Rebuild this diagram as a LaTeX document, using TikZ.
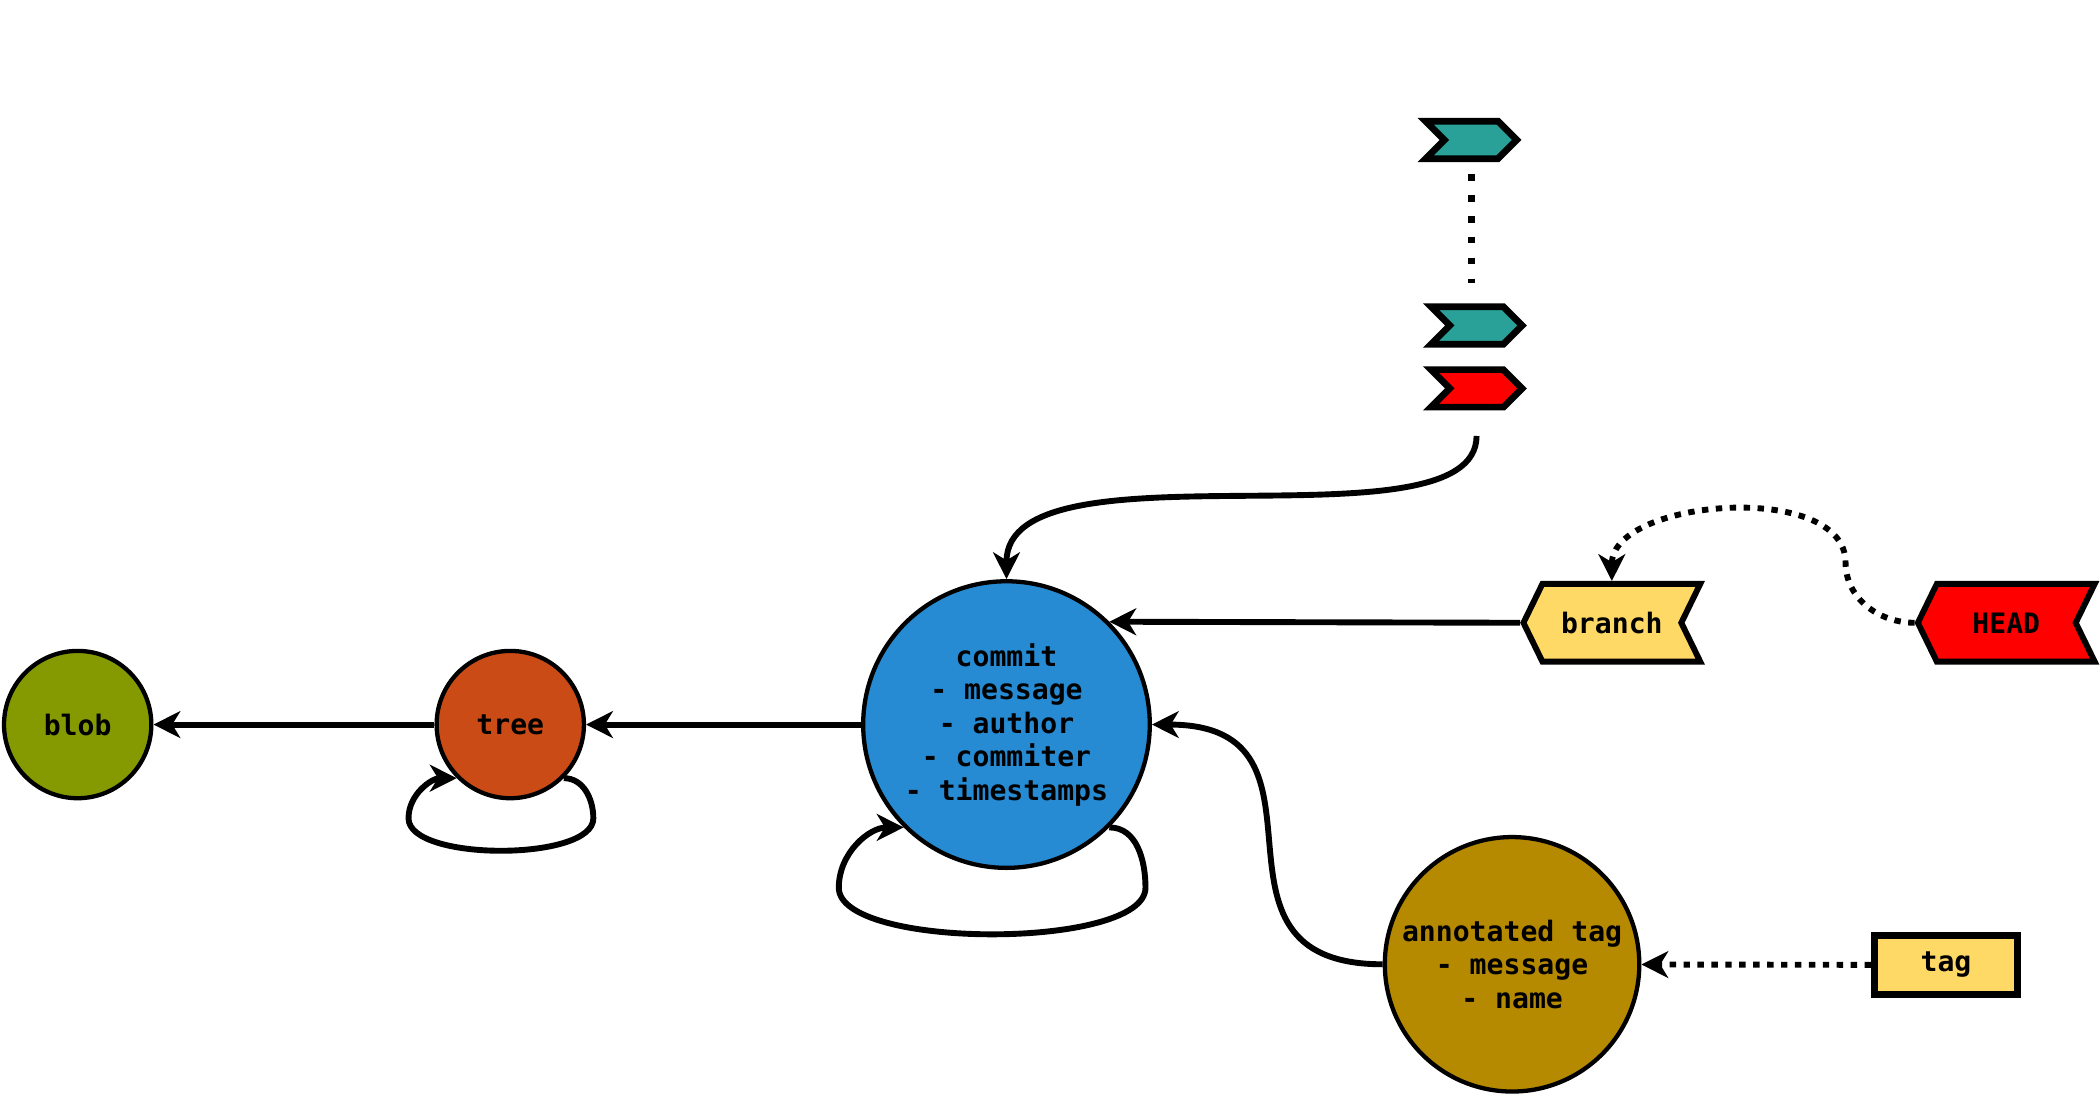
\documentclass[tikz,border=0pt]{standalone}
\usepackage{fontspec}
\setmonofont{DejaVu Sans Mono}
\usetikzlibrary{positioning,shapes.symbols,arrows.meta}

\definecolor{blobgreen}{HTML}{859900}
\definecolor{treeorange}{HTML}{CB4B16}
\definecolor{commitblue}{HTML}{268BD2}
\definecolor{tagbrown}{HTML}{B58900}
\definecolor{labelyellow}{HTML}{FFD966}
\definecolor{tipteal}{HTML}{2AA198}
\definecolor{headred}{HTML}{FF0000}

\tikzset{
  codefont/.style={font=\ttfamily\bfseries\fontsize{10.5pt}{12.5pt}\selectfont},
  gitobj/.style={circle,draw,line width=1.6pt,inner sep=0pt,align=center,codefont},
  reflabel/.style={signal,draw,line width=2.2pt,signal to=west,signal from=east,
    signal pointer angle=128,minimum width=66pt,minimum height=29pt,codefont},
  tipmark/.style={signal,draw,line width=2.5pt,signal to=east,signal from=west,
    signal pointer angle=90,minimum width=34pt,minimum height=14pt,fill=tipteal},
  dotline/.style={line width=2.2pt,dash pattern=on 2.4pt off 2.8pt},
}

\begin{document}
\begin{tikzpicture}[x=0.5pt,y=0.5pt,line width=2.2pt,
  >={Stealth[length=10pt,width=10pt,inset=3pt]}]
\useasboundingbox (0,0) rectangle (1568,-819);

% objects
\node (blob)[gitobj,fill=blobgreen,minimum size=55pt] at (58,-541) {blob};
\node (tree)[gitobj,fill=treeorange,minimum size=55pt] at (381,-541) {tree};
\node (commit)[gitobj,fill=commitblue,minimum size=107pt] at (751.5,-541) {commit\\
  - message\\
  - author\\
  - commiter\\
  - timestamps};
\node (atag)[gitobj,fill=tagbrown,minimum size=95pt] at (1129,-720) {annotated tag\\
  - message\\
  - name};

% refs
\node (tag)[draw,line width=2.5pt,fill=labelyellow,minimum width=53.5pt,minimum height=22pt,codefont] at (1453,-720.5) {tag};
\node (branch)[reflabel,fill=labelyellow] at (1203.5,-465) {branch};
\node (head)[reflabel,fill=headred] at (1498,-465) {HEAD};

% reflog
\node (tipOld)[tipmark] at (1098.5,-104.5) {};
\node (tipNew)[tipmark] at (1102.5,-243) {};
\node (tipCur)[tipmark,fill=headred,below=7pt of tipNew] {};

% draw the connections
\draw[->] (commit) -- (tree);
\draw[->] (tree) -- (blob);
\draw[->] (branch.west) -- (commit.45);
\draw[->] (atag.west) to[out=180,in=0,distance=75pt] (commit.east);
\draw[->,dotline] (tag) -- (atag);
\draw[->,shorten <=9.5pt] (tipCur.south) to[out=-90,in=90,distance=53.5pt] (commit.north);
\coordinate (headTurn) at (1378,-420);
\draw[->,dotline] (head.west) to[out=180,in=-90] (headTurn) to[out=90,in=90,looseness=0.9] (branch.north);
\draw[line width=2.5pt,dash pattern=on 2.5pt off 5.3pt,shorten <=4.5pt,shorten >=7.5pt] (tipOld.south) -- (tipOld.south |- tipNew.north);

% self loops
\draw[->] (tree.-45) to[out=0,in=90] ++(22,-30) to[out=-90,in=-90,looseness=0.6] ++(-138,0) to[out=90,in=180] (tree.-135);
\draw[->] (commit.-45) to[out=0,in=90] ++(27,-45) to[out=-90,in=-90,looseness=0.52] ++(-229,0) to[out=90,in=180] (commit.-135);
\end{tikzpicture}
\end{document}
